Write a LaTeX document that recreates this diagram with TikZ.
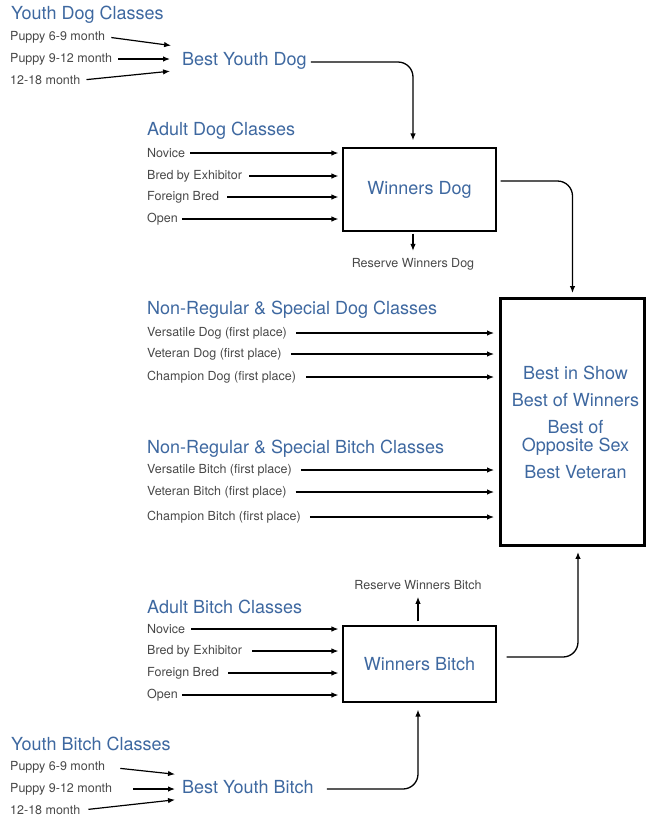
\documentclass[tikz,border=0pt]{standalone}
\usepackage{fontspec}
\setmainfont{TeX Gyre Heros}
\usetikzlibrary{arrows.meta}
\definecolor{headblue}{RGB}{62,104,160}
\definecolor{labgray}{RGB}{72,72,72}

\begin{document}
\begin{tikzpicture}[x=1pt,y=-1pt,
			>={Latex[length=7pt,width=5.5pt]},
			head/.style={anchor=west,inner sep=0pt,text=headblue,font=\fontsize{18}{20}\selectfont},
			cls/.style={anchor=west,inner sep=2pt,text=labgray,font=\fontsize{12.5}{14}\selectfont},
			winbox/.style={draw,line width=1.1pt,minimum width=153,text=headblue,font=\fontsize{18}{20}\selectfont},
			link/.style={->,line width=1.2pt},
			turn/.style={->,line width=1.3pt,rounded corners=15pt}]
			\useasboundingbox (0,0) rectangle (649,820);

			\node[head] (ydc) at (11,15) {Youth Dog Classes};
			\node[cls] (yd1) at (8,37) {Puppy 6-9 month};
			\node[cls] (yd2) at (8,59) {Puppy 9-12 month};
			\node[cls] (yd3) at (8,80) {12-18 month};
			\node[head] (byd) at (182,61) {Best Youth Dog};

			\node[head] (adc) at (147,131) {Adult Dog Classes};
			\node[cls] (ad1) at (145,153) {Novice};
			\node[cls] (ad2) at (145,176) {Bred by Exhibitor};
			\node[cls] (ad3) at (145,197) {Foreign Bred};
			\node[cls] (ad4) at (145,219) {Open};
			\node[winbox,minimum height=83] (wd) at (419.5,189.5) {Winners Dog};
			\node[cls,anchor=center] (rwd) at (413,264) {Reserve Winners Dog};

			\node[head] (ndc) at (147,310) {Non-Regular \& Special Dog Classes};
			\node[cls] (nd1) at (145,333) {Versatile Dog (first place)};
			\node[cls] (nd2) at (145,354) {Veteran Dog (first place)};
			\node[cls] (nd3) at (145,377) {Champion Dog (first place)};

			\node[head] (nbc) at (147,449) {Non-Regular \& Special Bitch Classes};
			\node[cls] (nb1) at (145,470) {Versatile Bitch (first place)};
			\node[cls] (nb2) at (145,492) {Veteran Bitch (first place)};
			\node[cls] (nb3) at (145,517) {Champion Bitch (first place)};

			\node[draw,line width=3.4pt,minimum width=143.5,minimum height=246.5,align=center,
				text=headblue,font=\fontsize{18}{18}\selectfont] (bis) at (572.5,422)
				{\hspace*{6pt}Best in Show\\[9pt]\hspace*{6pt}Best of Winners\\[9pt]\hspace*{6pt}Best of\\\hspace*{6pt}Opposite Sex\\[9pt]\hspace*{6pt}Best Veteran};

			\node[cls,anchor=center] (rwb) at (418,585) {Reserve Winners Bitch};
			\node[head] (abc) at (147,607) {Adult Bitch Classes};
			\node[cls] (ab1) at (145,629) {Novice};
			\node[cls] (ab2) at (145,651) {Bred by Exhibitor};
			\node[cls] (ab3) at (145,673) {Foreign Bred};
			\node[cls] (ab4) at (145,695) {Open};
			\node[winbox,minimum height=76] (wb) at (419.5,664) {Winners Bitch};

			\node[head] (ybc) at (11,744) {Youth Bitch Classes};
			\node[cls] (yb1) at (8,767) {Puppy 6-9 month};
			\node[cls] (yb2) at (8,789) {Puppy 9-12 month};
			\node[cls] (yb3) at (8,810) {12-18 month};
			\node[head] (byb) at (182,787) {Best Youth Bitch};

			\draw[link,shorten <=4pt,shorten >=11pt] (yd1.east) -- ([yshift=14]byd.west);
			\draw[link,shorten <=4pt,shorten >=12pt] (yd2.east) -- ([yshift=2]byd.west);
			\draw[link,shorten <=4pt,shorten >=12pt] (yd3.east) -- ([yshift=-9]byd.west);
			\draw[turn,shorten <=4pt,shorten >=7pt] ([yshift=-1]byd.east) -| ([xshift=-6.5]wd.north);

			\draw[link,shorten <=3pt,shorten >=4pt] (ad1.east) -- (ad1 -| wd.west);
			\draw[link,shorten <=5pt,shorten >=4pt] (ad2.east) -- (ad2 -| wd.west);
			\draw[link,shorten <=6pt,shorten >=4pt] (ad3.east) -- (ad3 -| wd.west);
			\draw[link,shorten <=2pt,shorten >=4pt] (ad4.east) -- (ad4 -| wd.west);
			\draw[link,shorten <=2pt,shorten >=5pt] (wd.south -| rwd) -- (rwd.north);
			\draw[turn,shorten <=4pt,shorten >=4pt] ([yshift=8.5]wd.east) -| (bis.north);

			\draw[link,shorten <=7pt,shorten >=5pt] (nd1.east) -- (nd1 -| bis.west);
			\draw[link,shorten <=7pt,shorten >=5pt] (nd2.east) -- (nd2 -| bis.west);
			\draw[link,shorten <=8pt,shorten >=5pt] (nd3.east) -- (nd3 -| bis.west);
			\draw[link,shorten <=7pt,shorten >=5pt] (nb1.east) -- (nb1 -| bis.west);
			\draw[link,shorten <=7pt,shorten >=5pt] (nb2.east) -- (nb2 -| bis.west);
			\draw[link,shorten <=7pt,shorten >=5pt] (nb3.east) -- (nb3 -| bis.west);

			\draw[link,shorten <=4pt,shorten >=5pt] (wb.north -| rwb) -- (rwb.south);
			\draw[link,shorten <=4pt,shorten >=4pt] (ab1.east) -- (ab1 -| wb.west);
			\draw[link,shorten <=8pt,shorten >=4pt] (ab2.east) -- (ab2 -| wb.west);
			\draw[link,shorten <=7pt,shorten >=4pt] (ab3.east) -- (ab3 -| wb.west);
			\draw[link,shorten <=2pt,shorten >=4pt] (ab4.east) -- (ab4 -| wb.west);
			\draw[turn,shorten <=10pt,shorten >=5pt] ([yshift=7]wb.east) -| ([xshift=5.5]bis.south);

			\draw[link,shorten <=13pt,shorten >=7pt] (yb1.east) -- ([yshift=12]byb.west);
			\draw[link,shorten <=19pt,shorten >=7pt] (yb2.east) -- ([yshift=-2]byb.west);
			\draw[link,shorten <=6pt,shorten >=7pt] (yb3.east) -- ([yshift=-12]byb.west);
			\draw[turn,shorten <=13pt,shorten >=7pt] ([yshift=-2]byb.east) -| ([xshift=-1.5]wb.south);

			\end{tikzpicture}
\end{document}
